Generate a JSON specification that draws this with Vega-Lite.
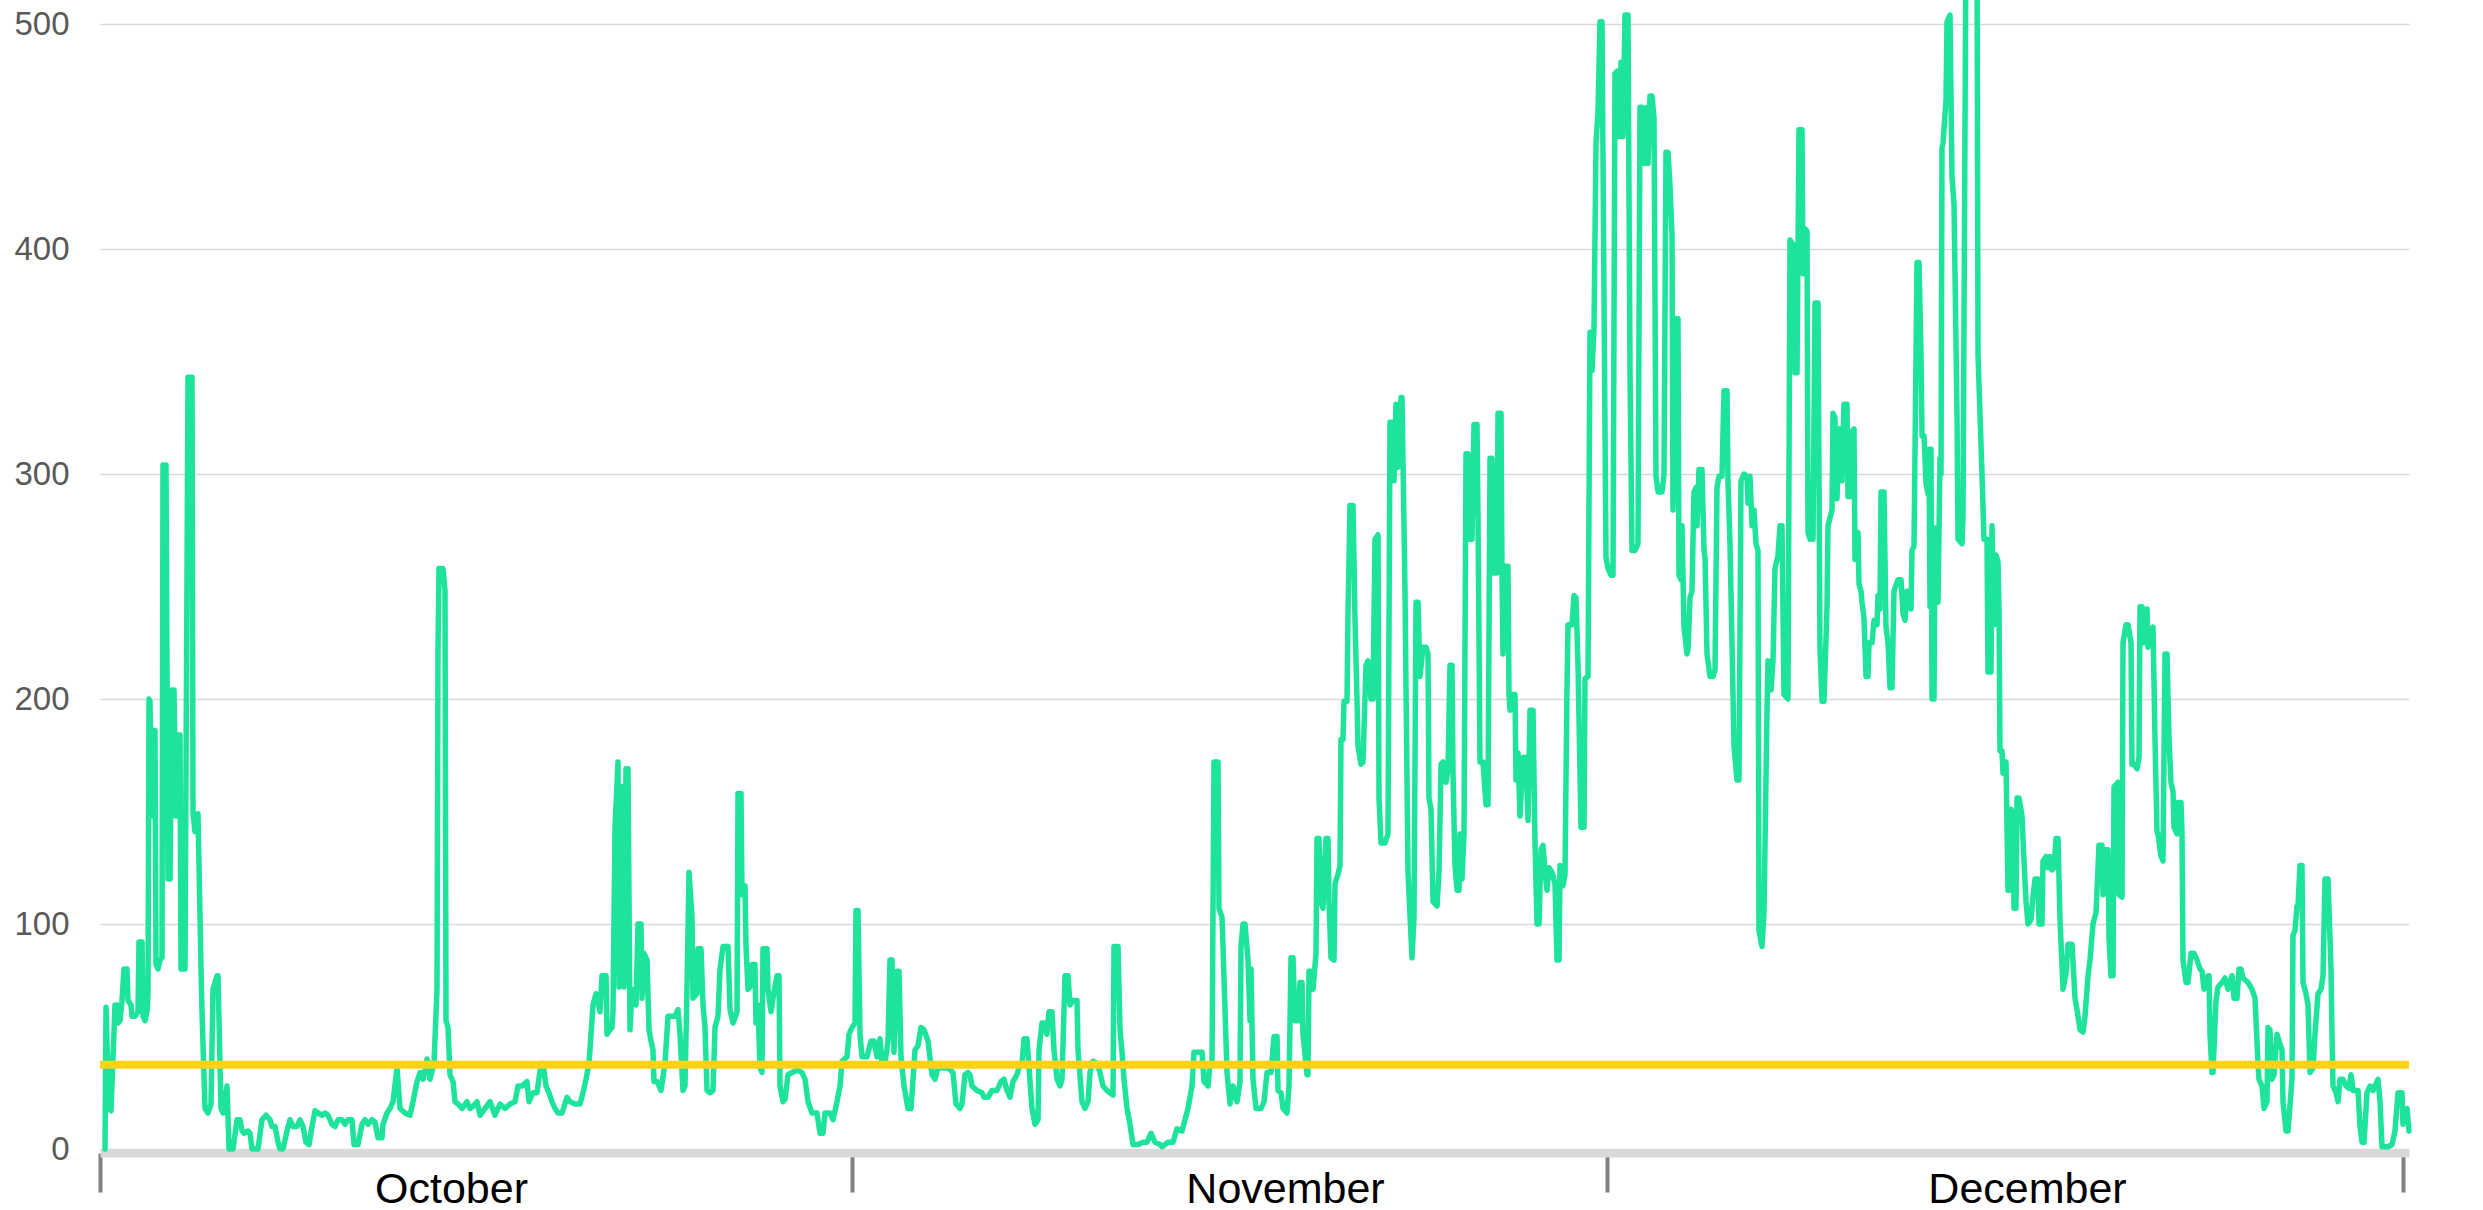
{
"$schema": "https://vega.github.io/schema/vega-lite/v6.json",
"width": 2309,
"height": 1125,
"autosize": {"type": "none"},
"padding": {"left": 100, "top": 24, "right": 74, "bottom": 61},
"background": "white",
"config": {"view": {"stroke": null}, "font": "Liberation Sans"},
"datasets": {
"mean": [{"v": 37.5}],
"series": [
{"t":5,"v":0},{"t":6,"v":63},{"t":9,"v":18},{"t":11,"v":17},{"t":15,"v":64},{"t":17,"v":64},{"t":18,"v":56},{"t":20,"v":57},{"t":22,"v":66},{"t":24,"v":80},{"t":27,"v":80},{"t":28,"v":66},{"t":31,"v":64},{"t":32,"v":59},{"t":35,"v":59},{"t":38,"v":61},{"t":39,"v":92},{"t":42,"v":92},{"t":43,"v":59},{"t":45,"v":57},{"t":47,"v":61},{"t":48,"v":69},{"t":49,"v":200},{"t":50,"v":199},{"t":52,"v":148},{"t":53,"v":186},{"t":55,"v":186},{"t":56,"v":82},{"t":58,"v":80},{"t":60,"v":84},{"t":62,"v":85},{"t":63,"v":304},{"t":66,"v":304},{"t":68,"v":120},{"t":70,"v":120},{"t":72,"v":204},{"t":74,"v":204},{"t":76,"v":148},{"t":78,"v":184},{"t":80,"v":184},{"t":81,"v":80},{"t":85,"v":80},{"t":88,"v":343},{"t":92,"v":343},{"t":93,"v":149},{"t":95,"v":141},{"t":98,"v":149},{"t":101,"v":80},{"t":102,"v":61},{"t":105,"v":18},{"t":108,"v":16},{"t":111,"v":20},{"t":113,"v":71},{"t":117,"v":77},{"t":118,"v":77},{"t":121,"v":18},{"t":123,"v":16},{"t":127,"v":28},{"t":129,"v":0},{"t":133,"v":0},{"t":137,"v":13},{"t":140,"v":13},{"t":142,"v":8},{"t":144,"v":7},{"t":148,"v":8},{"t":150,"v":7},{"t":152,"v":0},{"t":158,"v":0},{"t":162,"v":13},{"t":166,"v":15},{"t":170,"v":13},{"t":172,"v":10},{"t":175,"v":10},{"t":178,"v":3},{"t":180,"v":0},{"t":183,"v":0},{"t":187,"v":8},{"t":190,"v":13},{"t":193,"v":10},{"t":197,"v":10},{"t":200,"v":13},{"t":203,"v":10},{"t":206,"v":3},{"t":209,"v":2},{"t":212,"v":10},{"t":215,"v":17},{"t":218,"v":16},{"t":222,"v":15},{"t":225,"v":16},{"t":228,"v":15},{"t":232,"v":11},{"t":235,"v":10},{"t":238,"v":13},{"t":242,"v":13},{"t":245,"v":11},{"t":248,"v":13},{"t":252,"v":13},{"t":254,"v":2},{"t":258,"v":2},{"t":262,"v":11},{"t":265,"v":13},{"t":268,"v":11},{"t":272,"v":13},{"t":275,"v":12},{"t":278,"v":5},{"t":282,"v":5},{"t":283,"v":11},{"t":287,"v":16},
{"t":290,"v":18},{"t":293,"v":21},{"t":297,"v":36},{"t":300,"v":18},{"t":305,"v":16},{"t":310,"v":15},{"t":313,"v":21},{"t":317,"v":30},{"t":320,"v":34},{"t":323,"v":31},{"t":327,"v":40},{"t":330,"v":31},{"t":334,"v":38},{"t":337,"v":71},{"t":338,"v":222},{"t":339,"v":258},{"t":343,"v":258},{"t":345,"v":248},{"t":346,"v":57},{"t":348,"v":54},{"t":350,"v":33},{"t":353,"v":30},{"t":355,"v":21},{"t":358,"v":20},{"t":362,"v":18},{"t":367,"v":21},{"t":370,"v":18},{"t":373,"v":19},{"t":377,"v":21},{"t":380,"v":15},{"t":385,"v":18},{"t":390,"v":21},{"t":395,"v":15},{"t":400,"v":20},{"t":405,"v":18},{"t":410,"v":20},{"t":415,"v":21},{"t":418,"v":28},{"t":422,"v":28},{"t":427,"v":30},{"t":429,"v":21},{"t":433,"v":25},{"t":437,"v":25},{"t":441,"v":38},{"t":443,"v":38},{"t":446,"v":28},{"t":449,"v":25},{"t":452,"v":21},{"t":455,"v":18},{"t":458,"v":16},{"t":462,"v":16},{"t":467,"v":23},{"t":470,"v":21},{"t":475,"v":20},{"t":480,"v":20},{"t":483,"v":25},{"t":486,"v":31},{"t":489,"v":38},{"t":491,"v":51},{"t":493,"v":64},{"t":496,"v":69},{"t":500,"v":61},{"t":502,"v":77},{"t":506,"v":77},{"t":507,"v":51},{"t":510,"v":53},{"t":512,"v":54},{"t":513,"v":61},{"t":515,"v":143},{"t":518,"v":172},{"t":519,"v":72},{"t":522,"v":161},{"t":524,"v":72},{"t":526,"v":169},{"t":528,"v":169},{"t":530,"v":53},{"t":532,"v":71},{"t":536,"v":64},{"t":538,"v":100},{"t":541,"v":100},{"t":542,"v":67},{"t":544,"v":87},{"t":547,"v":84},{"t":549,"v":53},{"t":551,"v":48},{"t":553,"v":44},{"t":554,"v":30},{"t":557,"v":30},{"t":561,"v":26},{"t":565,"v":38},{"t":568,"v":59},{"t":571,"v":59},{"t":575,"v":59},{"t":578,"v":62},{"t":580,"v":51},{"t":583,"v":26},{"t":585,"v":28},{"t":587,"v":72},{"t":589,"v":123},{"t":592,"v":103},{"t":593,"v":67},{"t":597,"v":69},{"t":598,"v":89},{"t":601,"v":89},{"t":603,"v":64},{"t":605,"v":54},{"t":607,"v":26},{"t":610,"v":25},{"t":613,"v":26},{"t":615,"v":54},{"t":618,"v":59},{"t":620,"v":80},{"t":623,"v":90},{"t":628,"v":90},{"t":630,"v":62},{"t":633,"v":56},{"t":637,"v":61},{"t":638,"v":158},{"t":641,"v":158},{"t":642,"v":113},{"t":645,"v":117},{"t":646,"v":90},{"t":648,"v":71},{"t":650,"v":72},{"t":652,"v":82},{"t":655,"v":82},{"t":656,"v":56},{"t":658,"v":64},{"t":660,"v":36},{"t":662,"v":34},{"t":663,"v":89},{"t":667,"v":89},{"t":668,"v":71},{"t":671,"v":61},{"t":673,"v":67},{"t":677,"v":77},{"t":679,"v":77},{"t":680,"v":28},{"t":683,"v":21},
{"t":685,"v":22},{"t":688,"v":33},{"t":692,"v":34},{"t":697,"v":35},{"t":702,"v":34},{"t":705,"v":31},{"t":708,"v":21},{"t":712,"v":16},{"t":717,"v":16},{"t":720,"v":7},{"t":723,"v":7},{"t":725,"v":16},{"t":730,"v":16},{"t":733,"v":13},{"t":737,"v":21},{"t":740,"v":28},{"t":742,"v":39},{"t":747,"v":41},{"t":749,"v":51},{"t":752,"v":54},{"t":755,"v":56},{"t":756,"v":106},{"t":758,"v":106},{"t":760,"v":51},{"t":762,"v":41},{"t":767,"v":41},{"t":771,"v":48},{"t":774,"v":48},{"t":777,"v":41},{"t":780,"v":49},{"t":782,"v":38},{"t":785,"v":38},{"t":788,"v":48},{"t":790,"v":84},{"t":792,"v":84},{"t":794,"v":43},{"t":797,"v":79},{"t":799,"v":79},{"t":801,"v":41},{"t":804,"v":28},{"t":808,"v":18},{"t":811,"v":18},{"t":815,"v":44},{"t":818,"v":46},{"t":821,"v":54},{"t":824,"v":53},{"t":828,"v":48},{"t":832,"v":33},{"t":835,"v":31},{"t":839,"v":38},{"t":842,"v":36},{"t":848,"v":36},{"t":853,"v":34},{"t":856,"v":20},{"t":860,"v":18},{"t":862,"v":20},{"t":865,"v":33},{"t":868,"v":34},{"t":870,"v":33},{"t":872,"v":28},{"t":877,"v":26},{"t":882,"v":25},{"t":884,"v":23},{"t":888,"v":23},{"t":892,"v":26},{"t":897,"v":26},{"t":901,"v":30},{"t":904,"v":31},{"t":907,"v":26},{"t":910,"v":23},{"t":913,"v":30},{"t":917,"v":33},{"t":920,"v":38},{"t":922,"v":38},{"t":924,"v":49},{"t":927,"v":49},{"t":930,"v":30},{"t":932,"v":18},{"t":935,"v":11},{"t":938,"v":13},{"t":939,"v":44},{"t":942,"v":56},{"t":944,"v":56},{"t":947,"v":51},{"t":949,"v":61},{"t":952,"v":61},{"t":954,"v":44},{"t":957,"v":31},{"t":960,"v":28},{"t":962,"v":31},{"t":965,"v":77},{"t":968,"v":77},{"t":970,"v":64},{"t":973,"v":66},{"t":977,"v":66},{"t":978,"v":44},{"t":982,"v":21},{"t":985,"v":18},{"t":988,"v":21},{"t":990,"v":34},{"t":993,"v":39},{"t":997,"v":38},{"t":1000,"v":34},{"t":1003,"v":28},{"t":1007,"v":26},{"t":1010,"v":25},{"t":1013,"v":24},{"t":1014,"v":90},{"t":1018,"v":90},{"t":1020,"v":53},{"t":1022,"v":43},{"t":1024,"v":31},{"t":1027,"v":18},{"t":1030,"v":11},{"t":1033,"v":2},{"t":1038,"v":2},{"t":1043,"v":3},{"t":1047,"v":3},{"t":1051,"v":7},{"t":1055,"v":3},
{"t":1060,"v":2},{"t":1062,"v":1},{"t":1068,"v":3},{"t":1073,"v":3},{"t":1077,"v":9},{"t":1082,"v":8},{"t":1085,"v":13},{"t":1088,"v":18},{"t":1092,"v":28},{"t":1094,"v":43},{"t":1098,"v":43},{"t":1102,"v":43},{"t":1104,"v":30},{"t":1108,"v":28},{"t":1110,"v":38},{"t":1112,"v":38},{"t":1114,"v":172},{"t":1118,"v":172},{"t":1119,"v":107},{"t":1122,"v":103},{"t":1123,"v":90},{"t":1127,"v":34},{"t":1130,"v":20},{"t":1133,"v":28},{"t":1137,"v":21},{"t":1140,"v":30},{"t":1141,"v":90},{"t":1143,"v":100},{"t":1145,"v":100},{"t":1148,"v":84},{"t":1150,"v":57},{"t":1151,"v":80},{"t":1153,"v":31},{"t":1156,"v":18},{"t":1161,"v":18},{"t":1164,"v":21},{"t":1167,"v":34},{"t":1171,"v":34},{"t":1174,"v":50},{"t":1177,"v":50},{"t":1178,"v":26},{"t":1181,"v":25},{"t":1183,"v":18},{"t":1187,"v":16},{"t":1189,"v":28},{"t":1191,"v":85},{"t":1193,"v":85},{"t":1195,"v":57},{"t":1198,"v":57},{"t":1200,"v":74},{"t":1202,"v":74},{"t":1203,"v":51},{"t":1207,"v":33},{"t":1208,"v":33},{"t":1209,"v":79},{"t":1212,"v":79},{"t":1213,"v":71},{"t":1216,"v":87},{"t":1217,"v":138},{"t":1219,"v":138},{"t":1221,"v":110},{"t":1223,"v":107},{"t":1226,"v":138},{"t":1228,"v":138},{"t":1229,"v":110},{"t":1231,"v":85},{"t":1234,"v":84},{"t":1235,"v":118},{"t":1238,"v":122},{"t":1240,"v":126},{"t":1241,"v":182},{"t":1243,"v":182},{"t":1244,"v":199},{"t":1247,"v":199},{"t":1248,"v":238},{"t":1250,"v":286},{"t":1253,"v":286},{"t":1255,"v":235},{"t":1257,"v":200},{"t":1258,"v":179},{"t":1261,"v":171},{"t":1263,"v":172},{"t":1266,"v":215},{"t":1268,"v":217},{"t":1271,"v":200},{"t":1273,"v":200},{"t":1275,"v":271},{"t":1278,"v":273},{"t":1279,"v":156},{"t":1281,"v":136},{"t":1285,"v":136},{"t":1288,"v":140},{"t":1290,"v":323},{"t":1292,"v":323},{"t":1294,"v":297},{"t":1296,"v":331},{"t":1298,"v":303},{"t":1301,"v":334},{"t":1302,"v":334},{"t":1305,"v":248},{"t":1308,"v":123},{"t":1312,"v":85},{"t":1314,"v":103},{"t":1316,"v":243},{"t":1318,"v":243},{"t":1320,"v":210},{"t":1323,"v":223},{"t":1326,"v":223},{"t":1328,"v":220},{"t":1329,"v":156},{"t":1331,"v":151},{"t":1333,"v":110},{"t":1337,"v":108},{"t":1339,"v":123},{"t":1341,"v":171},{"t":1343,"v":172},{"t":1346,"v":163},{"t":1348,"v":169},{"t":1350,"v":215},{"t":1352,"v":215},{"t":1353,"v":167},{"t":1355,"v":126},{"t":1357,"v":115},{"t":1359,"v":115},{"t":1360,"v":140},{"t":1362,"v":120},{"t":1364,"v":140},{"t":1366,"v":309},{"t":1368,"v":309},{"t":1370,"v":271},{"t":1372,"v":271},{"t":1374,"v":322},{"t":1377,"v":322},{"t":1378,"v":281},{"t":1380,"v":172},{"t":1383,"v":172},{"t":1386,"v":153},{"t":1388,"v":153},{"t":1390,"v":307},{"t":1392,"v":307},{"t":1394,"v":256},{"t":1397,"v":256},{"t":1398,"v":327},{"t":1401,"v":327},{"t":1402,"v":256},{"t":1403,"v":220},{"t":1405,"v":259},{"t":1408,"v":259},{"t":1409,"v":202},{"t":1410,"v":195},{"t":1412,"v":202},{"t":1415,"v":202},{"t":1416,"v":164},{"t":1418,"v":176},{"t":1420,"v":148},{"t":1423,"v":174},{"t":1426,"v":174},{"t":1428,"v":146},{"t":1430,"v":195},{"t":1433,"v":195},{"t":1435,"v":136},{"t":1437,"v":100},{"t":1439,"v":100},{"t":1441,"v":133},{"t":1443,"v":135},{"t":1445,"v":123},{"t":1447,"v":115},{"t":1449,"v":125},{"t":1452,"v":123},{"t":1455,"v":118},{"t":1457,"v":84},{"t":1459,"v":84},{"t":1460,"v":126},{"t":1463,"v":117},{"t":1465,"v":122},{"t":1467,"v":205},{"t":1468,"v":233},{"t":1472,"v":233},{"t":1474,"v":246},{"t":1476,"v":245},{"t":1478,"v":215},{"t":1481,"v":143},{"t":1484,"v":143},{"t":1485,"v":209},{"t":1488,"v":210},{"t":1490,"v":363},{"t":1492,"v":346},{"t":1494,"v":365},{"t":1496,"v":447},{"t":1498,"v":461},{"t":1500,"v":501},{"t":1502,"v":501},{"t":1504,"v":379},{"t":1506,"v":263},{"t":1508,"v":258},{"t":1511,"v":255},{"t":1513,"v":255},{"t":1515,"v":478},{"t":1517,"v":479},{"t":1519,"v":450},{"t":1521,"v":483},{"t":1523,"v":450},{"t":1525,"v":504},{"t":1528,"v":504},{"t":1530,"v":346},{"t":1532,"v":266},{"t":1535,"v":266},{"t":1538,"v":269},{"t":1540,"v":463},{"t":1542,"v":463},{"t":1544,"v":438},{"t":1547,"v":463},{"t":1548,"v":438},{"t":1550,"v":468},{"t":1552,"v":468},{"t":1554,"v":458},{"t":1556,"v":299},{"t":1558,"v":292},{"t":1562,"v":292},{"t":1564,"v":300},{"t":1566,"v":443},{"t":1568,"v":443},{"t":1570,"v":428},{"t":1572,"v":406},{"t":1573,"v":284},{"t":1576,"v":369},{"t":1578,"v":369},{"t":1579,"v":255},{"t":1581,"v":253},{"t":1582,"v":277},{"t":1584,"v":232},{"t":1587,"v":220},{"t":1588,"v":222},{"t":1590,"v":245},{"t":1592,"v":248},{"t":1594,"v":292},{"t":1596,"v":294},{"t":1597,"v":277},{"t":1599,"v":302},{"t":1602,"v":302},{"t":1604,"v":266},{"t":1605,"v":263},{"t":1607,"v":220},{"t":1610,"v":210},{"t":1613,"v":210},{"t":1615,"v":213},{"t":1617,"v":294},{"t":1619,"v":299},{"t":1622,"v":299},{"t":1624,"v":337},{"t":1627,"v":337},{"t":1628,"v":296},{"t":1630,"v":269},{"t":1632,"v":225},{"t":1634,"v":179},{"t":1637,"v":164},{"t":1639,"v":164},{"t":1641,"v":297},{"t":1644,"v":300},{"t":1647,"v":299},{"t":1648,"v":287},{"t":1650,"v":299},{"t":1652,"v":277},{"t":1654,"v":284},{"t":1656,"v":269},{"t":1658,"v":266},{"t":1659,"v":97},{"t":1662,"v":90},{"t":1664,"v":105},{"t":1667,"v":195},{"t":1668,"v":217},{"t":1671,"v":204},{"t":1673,"v":217},{"t":1675,"v":258},{"t":1678,"v":264},{"t":1680,"v":277},{"t":1682,"v":277},{"t":1684,"v":202},{"t":1688,"v":200},{"t":1690,"v":404},{"t":1693,"v":402},{"t":1695,"v":345},{"t":1697,"v":345},{"t":1699,"v":453},{"t":1702,"v":453},{"t":1703,"v":389},{"t":1705,"v":409},{"t":1707,"v":408},{"t":1708,"v":274},{"t":1710,"v":271},{"t":1712,"v":297},{"t":1713,"v":271},{"t":1715,"v":376},{"t":1718,"v":376},{"t":1720,"v":222},{"t":1722,"v":199},{"t":1724,"v":199},{"t":1727,"v":241},{"t":1728,"v":277},{"t":1732,"v":284},{"t":1733,"v":327},{"t":1735,"v":325},{"t":1737,"v":289},{"t":1739,"v":320},{"t":1741,"v":320},{"t":1742,"v":297},{"t":1744,"v":331},{"t":1747,"v":331},{"t":1748,"v":290},{"t":1750,"v":290},{"t":1752,"v":319},{"t":1754,"v":320},{"t":1755,"v":262},{"t":1758,"v":274},{"t":1759,"v":251},{"t":1761,"v":248},{"t":1762,"v":243},{"t":1764,"v":236},{"t":1766,"v":210},{"t":1768,"v":210},{"t":1769,"v":225},{"t":1772,"v":225},{"t":1774,"v":235},{"t":1777,"v":233},{"t":1778,"v":246},{"t":1780,"v":240},{"t":1781,"v":292},{"t":1784,"v":292},{"t":1786,"v":232},{"t":1788,"v":225},{"t":1790,"v":205},{"t":1792,"v":205},{"t":1794,"v":248},{"t":1798,"v":253},{"t":1801,"v":253},{"t":1803,"v":238},{"t":1805,"v":235},{"t":1807,"v":248},{"t":1809,"v":245},{"t":1811,"v":240},{"t":1812,"v":266},{"t":1814,"v":268},{"t":1817,"v":394},{"t":1819,"v":394},{"t":1821,"v":353},{"t":1822,"v":317},{"t":1824,"v":317},{"t":1826,"v":296},{"t":1828,"v":291},{"t":1829,"v":311},{"t":1830,"v":241},{"t":1831,"v":311},{"t":1832,"v":200},{"t":1834,"v":200},{"t":1835,"v":276},{"t":1837,"v":243},{"t":1838,"v":243},{"t":1840,"v":307},{"t":1841,"v":300},{"t":1842,"v":445},{"t":1843,"v":447},{"t":1846,"v":466},{"t":1847,"v":501},{"t":1850,"v":504},{"t":1852,"v":432},{"t":1854,"v":420},{"t":1857,"v":327},{"t":1858,"v":271},{"t":1862,"v":269},{"t":1863,"v":281},{"t":1866,"v":540},{"t":1877,"v":540},{"t":1878,"v":353},{"t":1882,"v":300},{"t":1884,"v":271},{"t":1887,"v":271},{"t":1888,"v":212},{"t":1891,"v":212},{"t":1892,"v":277},{"t":1894,"v":233},{"t":1896,"v":264},{"t":1898,"v":261},{"t":1899,"v":240},{"t":1900,"v":177},{"t":1902,"v":177},{"t":1903,"v":167},{"t":1906,"v":172},{"t":1908,"v":115},{"t":1909,"v":115},{"t":1911,"v":151},{"t":1913,"v":149},{"t":1914,"v":107},{"t":1916,"v":107},{"t":1917,"v":156},{"t":1919,"v":156},{"t":1922,"v":148},{"t":1924,"v":128},{"t":1926,"v":110},{"t":1928,"v":100},{"t":1931,"v":102},{"t":1933,"v":112},{"t":1935,"v":120},{"t":1938,"v":120},{"t":1939,"v":100},{"t":1942,"v":100},{"t":1943,"v":128},{"t":1946,"v":130},{"t":1948,"v":125},{"t":1950,"v":130},{"t":1952,"v":124},{"t":1954,"v":125},{"t":1956,"v":138},{"t":1958,"v":138},{"t":1960,"v":102},{"t":1963,"v":71},{"t":1966,"v":78},{"t":1968,"v":91},{"t":1972,"v":91},{"t":1975,"v":67},{"t":1977,"v":62},{"t":1980,"v":53},{"t":1983,"v":52},{"t":1985,"v":59},{"t":1988,"v":77},{"t":1990,"v":84},{"t":1993,"v":100},{"t":1996,"v":105},{"t":1999,"v":135},{"t":2002,"v":135},{"t":2003,"v":113},{"t":2005,"v":133},{"t":2008,"v":133},{"t":2009,"v":94},{"t":2011,"v":77},{"t":2013,"v":77},{"t":2014,"v":161},{"t":2018,"v":163},{"t":2019,"v":113},{"t":2022,"v":112},{"t":2023,"v":225},{"t":2026,"v":233},{"t":2028,"v":233},{"t":2031,"v":225},{"t":2032,"v":171},{"t":2034,"v":171},{"t":2037,"v":169},{"t":2039,"v":174},{"t":2040,"v":241},{"t":2042,"v":241},{"t":2044,"v":225},{"t":2047,"v":240},{"t":2048,"v":223},{"t":2051,"v":230},{"t":2053,"v":232},{"t":2055,"v":182},{"t":2057,"v":141},{"t":2058,"v":140},{"t":2061,"v":130},{"t":2063,"v":128},{"t":2065,"v":220},{"t":2067,"v":220},{"t":2069,"v":182},{"t":2071,"v":163},{"t":2073,"v":159},{"t":2074,"v":143},{"t":2077,"v":140},{"t":2078,"v":154},{"t":2081,"v":154},{"t":2082,"v":140},{"t":2083,"v":84},{"t":2086,"v":74},{"t":2088,"v":74},{"t":2091,"v":87},{"t":2094,"v":87},{"t":2097,"v":84},{"t":2100,"v":80},{"t":2102,"v":79},{"t":2104,"v":71},{"t":2108,"v":77},{"t":2109,"v":77},{"t":2110,"v":51},{"t":2112,"v":34},{"t":2113,"v":34},{"t":2116,"v":66},{"t":2118,"v":72},{"t":2122,"v":74},{"t":2125,"v":76},{"t":2128,"v":71},{"t":2132,"v":77},{"t":2134,"v":67},{"t":2137,"v":67},{"t":2139,"v":80},{"t":2141,"v":80},{"t":2143,"v":76},{"t":2148,"v":74},{"t":2152,"v":71},{"t":2155,"v":67},{"t":2158,"v":38},{"t":2159,"v":31},{"t":2162,"v":28},{"t":2164,"v":18},{"t":2167,"v":21},{"t":2168,"v":54},{"t":2170,"v":53},{"t":2172,"v":31},{"t":2174,"v":33},{"t":2177,"v":51},{"t":2179,"v":48},{"t":2182,"v":44},{"t":2183,"v":21},{"t":2186,"v":8},{"t":2188,"v":8},{"t":2192,"v":31},{"t":2193,"v":95},{"t":2195,"v":97},{"t":2197,"v":108},{"t":2198,"v":108},{"t":2200,"v":126},{"t":2202,"v":126},{"t":2203,"v":74},{"t":2206,"v":69},{"t":2208,"v":64},{"t":2210,"v":34},{"t":2213,"v":36},{"t":2215,"v":51},{"t":2218,"v":69},{"t":2221,"v":71},{"t":2223,"v":77},{"t":2225,"v":120},{"t":2228,"v":120},{"t":2231,"v":80},{"t":2232,"v":51},{"t":2233,"v":28},{"t":2236,"v":25},{"t":2238,"v":21},{"t":2240,"v":31},{"t":2243,"v":31},{"t":2246,"v":28},{"t":2249,"v":27},{"t":2251,"v":33},{"t":2253,"v":26},{"t":2258,"v":26},{"t":2260,"v":10},{"t":2262,"v":3},{"t":2264,"v":3},{"t":2267,"v":25},{"t":2270,"v":28},{"t":2273,"v":26},{"t":2278,"v":31},{"t":2280,"v":21},{"t":2282,"v":1},{"t":2288,"v":1},{"t":2292,"v":2},{"t":2295,"v":8},{"t":2298,"v":25},{"t":2302,"v":25},{"t":2303,"v":11},{"t":2307,"v":18},{"t":2309,"v":8}
]
},
"layer": [
{
"data": {"name": "series"},
"mark": {"type": "line", "color": "#1ee39a", "strokeWidth": 5.5, "strokeJoin": "round", "strokeCap": "round"},
"encoding": {
"x": {"field": "t", "type": "quantitative",
"scale": {"domain": [0, 2309], "nice": false, "zero": false},
"axis": {"title": null, "grid": false,
"values": [0, 351, 752, 1185, 1507, 1927, 2303],
"labelExpr": "datum.value == 351 ? 'October' : datum.value == 1185 ? 'November' : datum.value == 1927 ? 'December' : ''",
"domainColor": "#d9d9d9", "domainWidth": 8, "domainCap": "butt", "offset": 4,
"tickColor": "#7f7f7f", "tickWidth": 4, "tickSize": 39,
"tickOpacity": {"condition": {"test": "datum.value == 351 || datum.value == 1185 || datum.value == 1927", "value": 0}, "value": 1},
"labelFont": "Liberation Sans", "labelFontSize": 43, "labelColor": "#000000", "labelLimit": 0,
"labelBaseline": "alphabetic", "labelPadding": 10, "labelOverlap": false, "labelFlush": false, "labelAlign": "center"}},
"y": {"field": "v", "type": "quantitative",
"scale": {"domain": [0, 500], "nice": false, "zero": true},
"axis": {"title": null, "values": [0, 100, 200, 300, 400, 500],
"grid": true, "gridColor": "#d9d9d9", "gridWidth": 1.5,
"domain": false, "ticks": false, "tickSize": 0, "labelPadding": 31,
"labelFont": "Liberation Sans", "labelFontSize": 33, "labelColor": "#595959"}}
}
},
{
"data": {"name": "mean"},
"mark": {"type": "rule", "color": "#ffd11a", "strokeWidth": 8},
"encoding": {"y": {"field": "v", "type": "quantitative"}}
}
]
}
